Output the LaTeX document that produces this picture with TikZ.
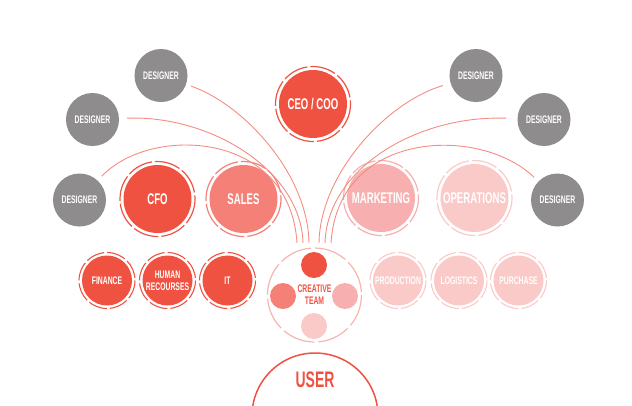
\documentclass[tikz,border=0pt]{standalone}
\usepackage{fontspec}
\newfontfamily\cond{Liberation Sans}[FakeStretch=0.62, BoldFeatures={FakeStretch=0.62}]
\definecolor{cgray}{RGB}{142,140,141}
\definecolor{cred}{RGB}{240,82,66}
\definecolor{csales}{RGB}{244,128,120}
\definecolor{cmark}{RGB}{247,176,175}
\definecolor{cpale}{RGB}{250,202,200}
\definecolor{cline}{RGB}{245,140,130}
\definecolor{cring}{RGB}{248,180,175}
\begin{document}
\begin{tikzpicture}[x=1pt,y=-1pt,
  bub/.style={circle, inner sep=0pt, text=white, align=center},
  designer/.style={bub, fill=cgray, minimum size=53pt, font=\cond\bfseries\fontsize{11}{12}\selectfont},
  bignode/.style={bub, minimum size=68pt, font=\cond\bfseries\fontsize{15.5}{16}\selectfont},
  smallnode/.style={bub, minimum size=50pt, font=\cond\bfseries\fontsize{11}{12}\selectfont},
  bigring/.style={line width=1.2pt, dash pattern=on 26pt off 3pt},
  smallring/.style={line width=1.1pt, dash pattern=on 19pt off 3pt},
  curve/.style={draw=cline, line width=0.9pt},
  inner/.style={circle, inner sep=0pt, minimum size=26pt}
]
\useasboundingbox (0,0) rectangle (632,405);
\clip (0,0) rectangle (632,405);

% designers
\node[designer] (d1) at (161,75.5) {DESIGNER};
\node[designer] (d2) at (92.5,119.5) {DESIGNER};
\node[designer] (d3) at (79.5,200) {DESIGNER};
\node[designer] (d4) at (476,75.5) {DESIGNER};
\node[designer] (d5) at (544,119.5) {DESIGNER};
\node[designer] (d6) at (557.5,200) {DESIGNER};

% big nodes
\node[bignode, fill=cred] (ceo) at (313,104) {CEO / COO};
\node[bignode, fill=cred] (cfo) at (157.5,199) {CFO};
\node[bignode, fill=csales] (sales) at (243.5,199) {SALES};
\node[bignode, fill=cmark] (mkt) at (381,198) {MARKETING};
\node[bignode, fill=cpale] (ops) at (474.5,198) {OPERATIONS};
\draw[bigring, draw=cred] (ceo.center) circle[radius=37.5];
\draw[bigring, draw=cred] (cfo.center) circle[radius=37.5];
\draw[bigring, draw=csales] (sales.center) circle[radius=37.5];
\draw[bigring, draw=cmark] (mkt.center) circle[radius=37.5];
\draw[bigring, draw=cpale] (ops.center) circle[radius=37.5];

% small nodes
\node[smallnode, fill=cred] (fin) at (107,280.5) {FINANCE};
\node[smallnode, fill=cred] (hr) at (167.5,280.5) {HUMAN\\RECOURSES};
\node[smallnode, fill=cred] (it) at (227.5,280.5) {IT};
\node[smallnode, fill=cpale] (prod) at (398,280.5) {PRODUCTION};
\node[smallnode, fill=cpale] (log) at (459,280.5) {LOGISTICS};
\node[smallnode, fill=cpale] (pur) at (518.5,280.5) {PURCHASE};
\foreach \n/\c in {fin/cred,hr/cred,it/cred,prod/cpale,log/cpale,pur/cpale}
  \draw[smallring, draw=\c] (\n.center) circle[radius=28];

% creative team
\node[circle, inner sep=0pt, minimum size=94pt, align=center, text=cred,
  font=\cond\bfseries\fontsize{11}{12}\selectfont] (team) at (314.5,295) {CREATIVE\\TEAM};
\draw[draw=cring, line width=1.2pt, dash pattern=on 33pt off 4pt] (team.center) circle[radius=47];
\node[inner, fill=cred] (t1) at (314,265) {};
\node[inner, fill=csales] (t2) at (283,296) {};
\node[inner, fill=cmark] (t3) at (345,296) {};
\node[inner, fill=cpale] (t4) at (314,326) {};

% user
\node[circle, draw=cred, line width=1.5pt, minimum size=126pt, inner sep=0pt] (user) at (315,416) {};
\node[text=cred, font=\cond\bfseries\fontsize{22.5}{24}\selectfont] (usert) at (315,380) {USER};

% curve ends
\coordinate (e1) at (297,243);
\coordinate (e2) at (303,243);
\coordinate (e3) at (309,243);
\coordinate (e4) at (319,243);
\coordinate (e5) at (325,243);
\coordinate (e6) at (331,243);

\draw[curve, shorten <=5pt] (d1) .. controls (245,105) and (308,175) .. (e3);
\draw[curve, shorten <=8pt] (d2) .. controls (210,115) and (301,170) .. (e2);
\draw[curve, shorten <=6pt] (d3) .. controls (150,125) and (290,130) .. (e1);
\draw[curve, shorten <=8pt] (d4) .. controls (385,103) and (320,175) .. (e4);
\draw[curve, shorten <=11pt] (d5) .. controls (415,115) and (327,170) .. (e5);
\draw[curve, shorten <=6pt] (d6) .. controls (480,125) and (338,130) .. (e6);
\end{tikzpicture}
\end{document}
